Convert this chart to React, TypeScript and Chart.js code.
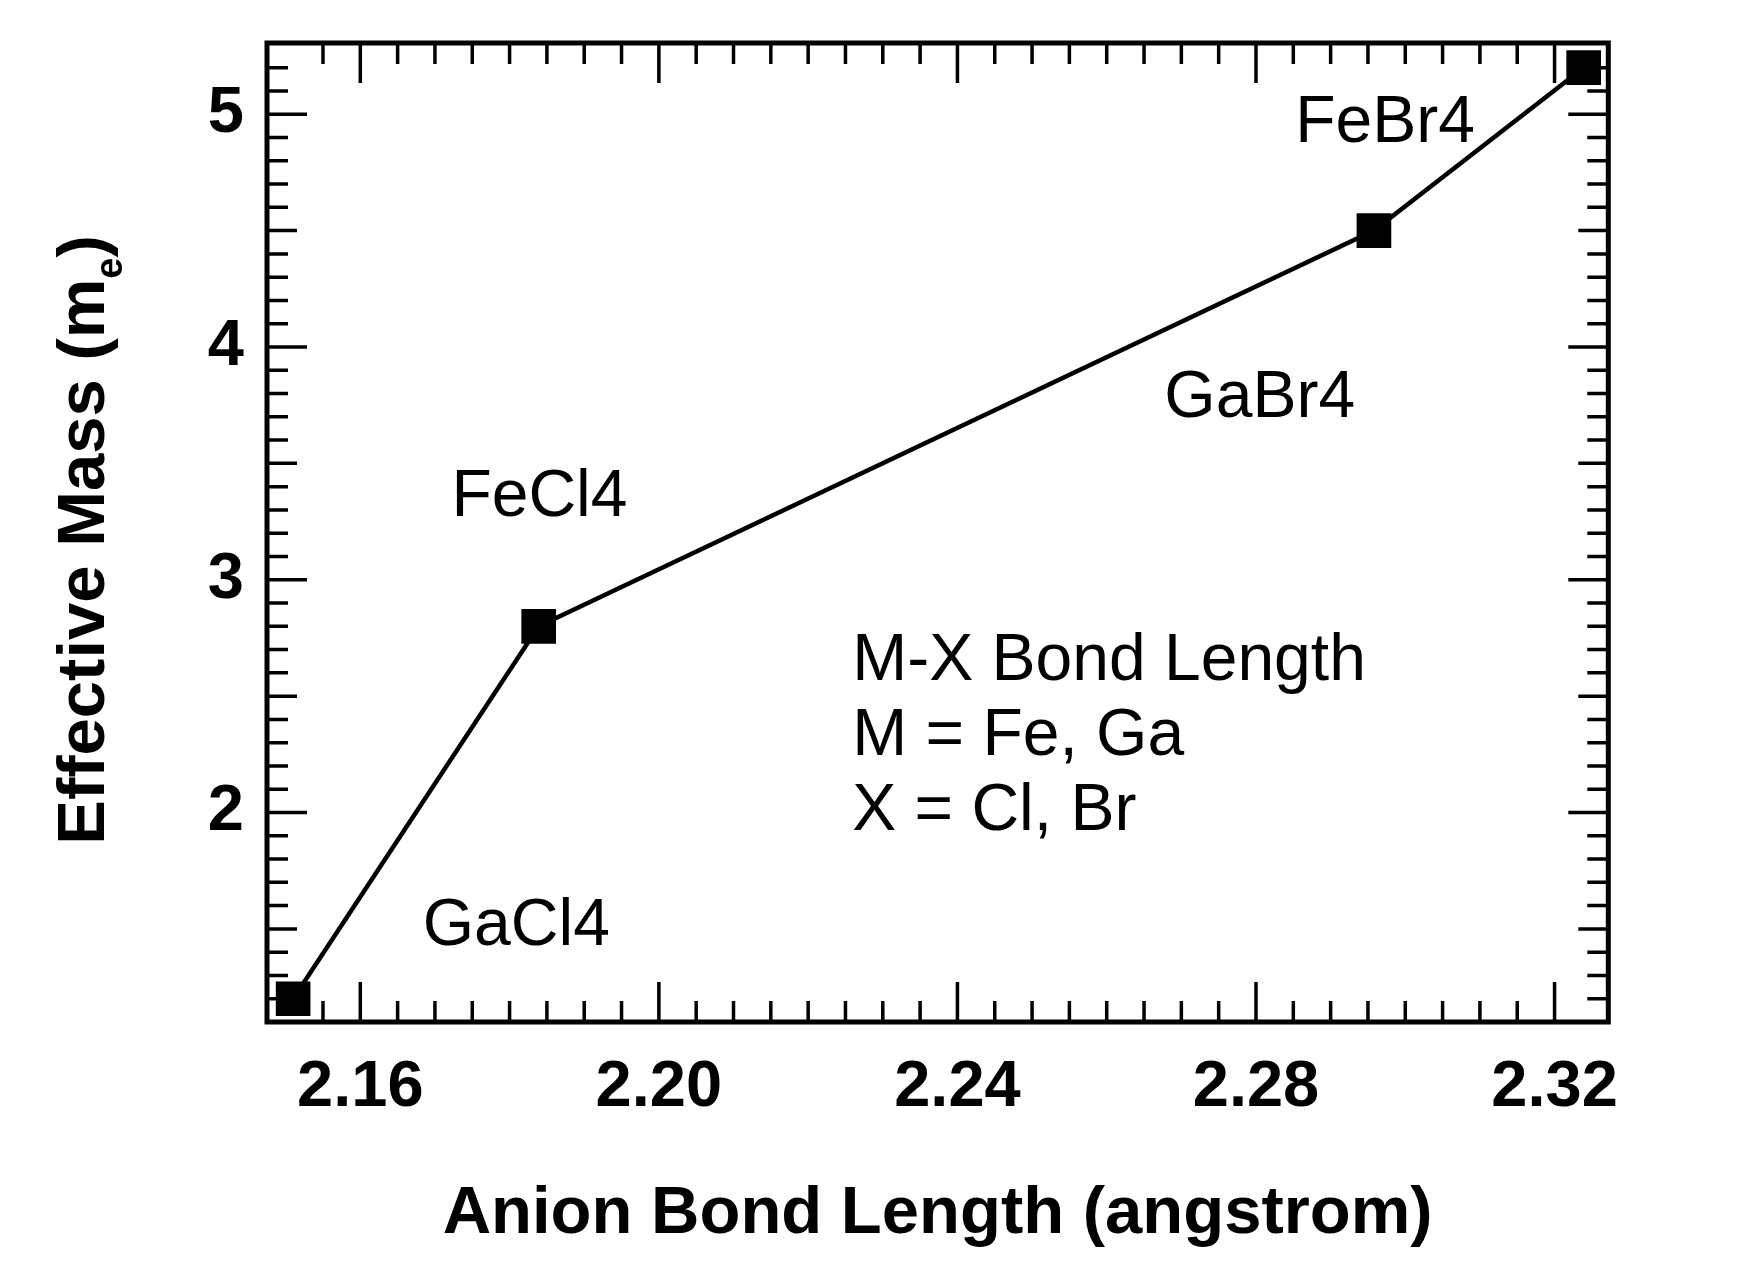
import React, { useEffect, useRef } from "react";
import { Chart, registerables } from "chart.js";

Chart.register(...registerables);

// ---- data ----
const compounds = ["GaCl4", "FeCl4", "GaBr4", "FeBr4"];
const bondLength = [2.151, 2.1839, 2.2958, 2.3239];
const effectiveMass = [1.2, 2.8, 4.5, 5.2];

const xTickValues = [2.16, 2.2, 2.24, 2.28, 2.32];
const yTickValues = [2, 3, 4, 5];
const xRange = [2.1475, 2.3272];
const yRange = [1.1, 5.306];

// compound label anchors (data units)
const labelX = [2.1809, 2.184, 2.2805, 2.2973];
const labelY = [1.429, 3.274, 3.698, 4.881];

const noteLines = ["M-X Bond Length", "M = Fe, Ga", "X = Cl, Br"];
const noteX = 2.2259;
const noteY = [2.568, 2.245, 1.923];

const xTitle = "Anion Bond Length (angstrom)";
const yTitleMain = "Effective Mass (m";
const yTitleSub = "e";
const yTitleEnd = ")";

const W = 1758;
const H = 1267;
const FONT = '"Liberation Sans", Arial, Helvetica, sans-serif';

const framePlugin = {
  id: "frameTicks",
  beforeDatasetsDraw(chart: any) {
    const { ctx, chartArea: a, scales } = chart;
    const xs = scales.x;
    const ys = scales.y;
    ctx.save();
    ctx.strokeStyle = "#000";
    ctx.lineCap = "butt";
    ctx.lineWidth = 3.5;
    // x ticks every 0.005
    const kx0 = Math.ceil(xRange[0] / 0.005 - 1e-9);
    const kx1 = Math.floor(xRange[1] / 0.005 + 1e-9);
    for (let k = kx0; k <= kx1; k++) {
      const v = k * 0.005;
      if (v - xRange[0] < 0.004 || xRange[1] - v < 0.004) continue;
      const major = xTickValues.some((t) => Math.abs(t - v) < 1e-6);
      const len = major ? 40 : 21;
      const px = xs.getPixelForValue(v);
      ctx.beginPath();
      ctx.moveTo(px, a.bottom);
      ctx.lineTo(px, a.bottom - len);
      ctx.moveTo(px, a.top);
      ctx.lineTo(px, a.top + len);
      ctx.stroke();
    }
    // y ticks every 0.1
    const ky0 = Math.ceil(yRange[0] * 10 - 1e-9);
    const ky1 = Math.floor(yRange[1] * 10 + 1e-9);
    for (let k = ky0; k <= ky1; k++) {
      const v = k / 10;
      if (v - yRange[0] < 0.05 || yRange[1] - v < 0.05) continue;
      const len = k % 10 === 0 ? 40 : k % 5 === 0 ? 30 : 21;
      const py = ys.getPixelForValue(v);
      ctx.beginPath();
      ctx.moveTo(a.left, py);
      ctx.lineTo(a.left + len, py);
      ctx.moveTo(a.right, py);
      ctx.lineTo(a.right - len, py);
      ctx.stroke();
    }
    ctx.lineWidth = 5;
    ctx.lineJoin = "miter";
    ctx.strokeRect(a.left, a.top, a.right - a.left, a.bottom - a.top);
    ctx.restore();
  },
  afterDatasetsDraw(chart: any) {
    const { ctx, scales } = chart;
    const xs = scales.x;
    const ys = scales.y;
    ctx.save();
    ctx.fillStyle = "#000";
    ctx.font = `66px ${FONT}`;
    ctx.textBaseline = "alphabetic";
    ctx.textAlign = "center";
    compounds.forEach((c, i) => {
      ctx.fillText(c, xs.getPixelForValue(labelX[i]), ys.getPixelForValue(labelY[i]));
    });
    ctx.textAlign = "left";
    noteLines.forEach((t, i) => {
      ctx.fillText(t, xs.getPixelForValue(noteX), ys.getPixelForValue(noteY[i]));
    });
    ctx.restore();
  },
  afterDraw(chart: any) {
    const { ctx } = chart;
    ctx.save();
    ctx.fillStyle = "#000";
    const cx = 104;
    const cy = 540;
    ctx.translate(cx, cy);
    ctx.rotate(-Math.PI / 2);
    ctx.textBaseline = "alphabetic";
    ctx.textAlign = "left";
    const mainFont = `bold 67px ${FONT}`;
    const subFont = `bold 38px ${FONT}`;
    ctx.font = mainFont;
    const w1 = ctx.measureText(yTitleMain).width;
    const w3 = ctx.measureText(yTitleEnd).width;
    ctx.font = subFont;
    const w2 = ctx.measureText(yTitleSub).width;
    const total = w1 + w2 + w3;
    const start = -total / 2;
    ctx.font = mainFont;
    ctx.fillText(yTitleMain, start, 0);
    ctx.font = subFont;
    ctx.fillText(yTitleSub, start + w1, 18);
    ctx.font = mainFont;
    ctx.fillText(yTitleEnd, start + w1 + w2, 0);
    ctx.restore();
  },
};

export default function App() {
  const ref = useRef<HTMLCanvasElement | null>(null);

  useEffect(() => {
    if (!ref.current) return;
    const chart = new Chart(ref.current, {
      type: "scatter",
      data: {
        datasets: [
          {
            data: bondLength.map((x, i) => ({ x, y: effectiveMass[i] })),
            showLine: true,
            borderColor: "#000",
            borderWidth: 4.5,
            backgroundColor: "#000",
            pointStyle: "rect",
            pointRadius: 24.5,
            pointHoverRadius: 24.5,
            pointBackgroundColor: "#000",
            pointBorderColor: "#000",
            pointBorderWidth: 0,
            tension: 0,
            clip: false as any,
          } as any,
        ],
      },
      options: {
        animation: false,
        responsive: false,
        devicePixelRatio: 1,
        events: [],
        layout: { padding: { top: 43, right: W - 1608.3, left: 0, bottom: 0 } },
        plugins: {
          legend: { display: false },
          tooltip: { enabled: false },
        },
        scales: {
          x: {
            type: "linear",
            position: "bottom",
            min: xRange[0],
            max: xRange[1],
            afterBuildTicks: (s: any) => {
              s.ticks = xTickValues.map((value) => ({ value }));
            },
            afterFit: (s: any) => {
              s.height = H - 1022;
              s.paddingLeft = 0;
              s.paddingRight = 0;
            },
            grid: { display: false, drawTicks: false },
            border: { display: false },
            ticks: {
              autoSkip: false,
              maxRotation: 0,
              padding: 27,
              color: "#000",
              font: { family: FONT, size: 65, weight: "bold" },
              callback: (v: any) => Number(v).toFixed(2),
            },
            title: {
              display: true,
              text: xTitle,
              color: "#000",
              font: { family: FONT, size: 67, weight: "bold" },
              padding: { top: 0, bottom: 12 },
            },
          },
          y: {
            type: "linear",
            position: "left",
            min: yRange[0],
            max: yRange[1],
            afterBuildTicks: (s: any) => {
              s.ticks = yTickValues.map((value) => ({ value }));
            },
            afterFit: (s: any) => {
              s.width = 267;
              s.paddingTop = 0;
              s.paddingBottom = 0;
            },
            grid: { display: false, drawTicks: false },
            border: { display: false },
            ticks: {
              autoSkip: false,
              padding: 23,
              color: "#000",
              font: { family: FONT, size: 65, weight: "bold" },
              callback: (v: any) => String(v),
            },
          },
        },
      } as any,
      plugins: [framePlugin],
    });
    return () => chart.destroy();
  }, []);

  return (
    <div style={{ position: "absolute", left: 0, top: 0, width: W, height: H, background: "#fff" }}>
      <canvas ref={ref} width={W} height={H} style={{ display: "block", width: W, height: H }} />
    </div>
  );
}
